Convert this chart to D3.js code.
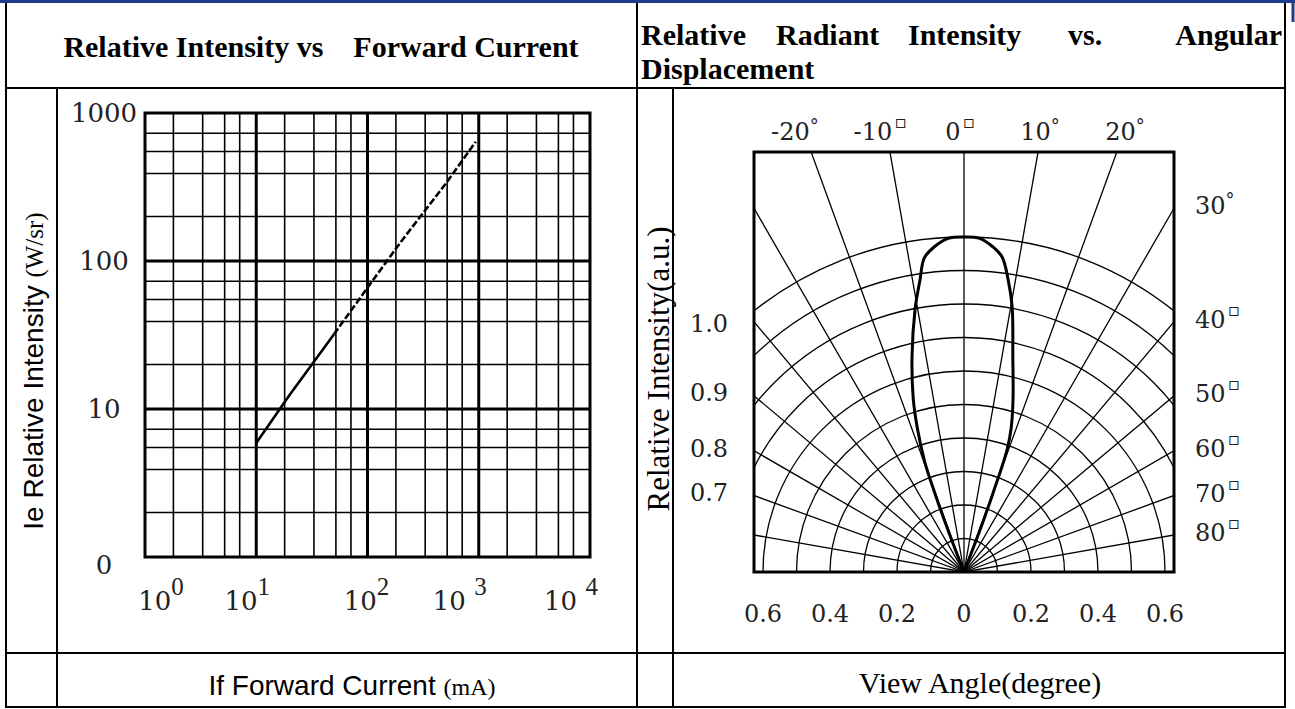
<!DOCTYPE html>
<html>
<head>
<meta charset="utf-8">
<script src="https://cdn.jsdelivr.net/npm/d3@7"></script>
<style>
body{margin:0;background:#fff;}
svg{display:block;}
</style>
</head>
<body>
<svg id="canvas"></svg>
<script>
// ---- left chart: relative intensity vs forward current ----
let xTicks=[1,10,100,1000,10000]
let xTickExp=["0","1","2","3","4"]
let xTickBase=["10","10","10","10 ","10 "]
let yTicks=[1000,100,10,1]
let yTickText=["1000","100","10","0"]
let xMinor=[1.8,3.3,5.2,7.1]
let yMinor=[2,3.9,5.5,7.3]
let currentMA=[10,20,50,100,200,500,940]
let intensityWsr=[5.9,12.5,32,66,135,330,640]

// ---- right chart: radiant intensity vs angle ----
let lobeAngle=[-21.6,-21,-20.3,-19.6,-18,-16.3,-13.6,-10.5,-8.6,-7.2,-5.2,-2.7,0,2.7,5.1,6.9,8.6,10.3,12.8,15.9,18.2,19.4,20.2,20.9,21.4]
let lobeValue=[0,0.12,0.25,0.35,0.45,0.54,0.66,0.80,0.88,0.945,0.975,0.997,1.0,0.997,0.974,0.947,0.882,0.804,0.658,0.534,0.45,0.386,0.25,0.13,0]
let ringValues=[0.1,0.2,0.3,0.4,0.5,0.6,0.7,0.8,0.9,1.0]
let spokeAngles=[-90,-80,-70,-60,-50,-40,-30,-20,-10,0,10,20,30,40,50,60,70,80,90]
let topAngles=[-20,-10,0,10,20]
let topMarks=["°","▫","▫","°","°"]
let sideAngles=[30,40,50,60,70,80]
let sideMarks=["°","▫","▫","▫","▫","▫"]
let bottomTicks=[-0.6,-0.4,-0.2,0,0.2,0.4,0.6]
let leftTickText=["1.0","0.9","0.8","0.7"]

// layout
let width=1295, height=709
let xLabelNudge=[16,-9,-1,-19,-19]
let leftTickY=[323,392,448,492]
let serif='"Liberation Serif","Times New Roman",serif'
let tickFont='"DejaVu Serif",serif'
let sans='"Liberation Sans",Arial,sans-serif'

let svg=d3.select('#canvas').attr('width',width).attr('height',height)
svg.append('rect').attr('width',width).attr('height',height).attr('fill','#fff')

let hline=(x1,x2,y,w,c)=>svg.append('line').attr('x1',x1).attr('x2',x2).attr('y1',y).attr('y2',y)
    .attr('stroke',c||'#000').attr('stroke-width',w)
let vline=(x,y1,y2,w,c)=>svg.append('line').attr('x1',x).attr('x2',x).attr('y1',y1).attr('y2',y2)
    .attr('stroke',c||'#000').attr('stroke-width',w)

// table frame
hline(0,width,1.5,3,'#1f3b8c')
vline(1293,0,22,3,'#1f3b8c')
hline(5,1286,88,2)
hline(5,1286,653,2)
hline(5,1286,707,2)
vline(6,3,708,2)
vline(1285,3,708,2)
vline(637,3,708,2)
vline(57,88,708,2)
vline(673,88,708,2)

// header texts
svg.append('text').attr('x',321).attr('y',57).attr('text-anchor','middle')
    .style('font-family',serif).style('font-weight','bold').style('font-size','30px')
    .attr('xml:space','preserve')
    .text('Relative Intensity vs    Forward Current')

let headWords=['Relative','Radiant','Intensity','vs.','Angular']
let headX=[641,776,908,1068,1282]
headWords.forEach((w,i)=>{
    svg.append('text').attr('x',headX[i]).attr('y',45)
    .attr('text-anchor',i==headWords.length-1?'end':'start')
    .style('font-family',serif).style('font-weight','bold').style('font-size','30px')
    .text(w)
})
svg.append('text').attr('x',641).attr('y',79)
    .style('font-family',serif).style('font-weight','bold').style('font-size','30px')
    .text('Displacement')

// ---------- left chart ----------
let xScale=d3.scaleLog().domain([1,10000]).range([145,590])
let yScale=d3.scaleLog().domain([1,1000]).range([557,113])
let left=svg.append('g')

let xMinorVals=[]
xTicks.slice(0,4).forEach(d=>xMinor.forEach(m=>xMinorVals.push(d*m)))
let yMinorVals=[]
yTicks.slice(1).forEach(d=>yMinor.forEach(m=>yMinorVals.push(d*m)))

left.selectAll('.xminor').data(xMinorVals).enter().append('line')
    .attr('x1',d=>xScale(d)).attr('x2',d=>xScale(d))
    .attr('y1',yScale(1)).attr('y2',yScale(1000))
    .attr('stroke','#000').attr('stroke-width',1.6)
left.selectAll('.yminor').data(yMinorVals).enter().append('line')
    .attr('y1',d=>yScale(d)).attr('y2',d=>yScale(d))
    .attr('x1',xScale(1)).attr('x2',xScale(10000))
    .attr('stroke','#000').attr('stroke-width',1.6)
left.selectAll('.xmajor').data(xTicks.slice(1,4)).enter().append('line')
    .attr('x1',d=>xScale(d)).attr('x2',d=>xScale(d))
    .attr('y1',yScale(1)).attr('y2',yScale(1000))
    .attr('stroke','#000').attr('stroke-width',3)
left.selectAll('.ymajor').data(yTicks.slice(1,3)).enter().append('line')
    .attr('y1',d=>yScale(d)).attr('y2',d=>yScale(d))
    .attr('x1',xScale(1)).attr('x2',xScale(10000))
    .attr('stroke','#000').attr('stroke-width',3)
left.append('rect')
    .attr('x',xScale(1)).attr('y',yScale(1000))
    .attr('width',xScale(10000)-xScale(1)).attr('height',yScale(1)-yScale(1000))
    .attr('fill','none').attr('stroke','#000').attr('stroke-width',3)

let pts=currentMA.map((c,i)=>[c,intensityWsr[i]])
let line=d3.line().x(d=>xScale(d[0])).y(d=>yScale(d[1]))
left.append('path').datum(pts.slice(0,3)).attr('d',line)
    .attr('fill','none').attr('stroke','#000').attr('stroke-width',2.6)
left.append('path').datum(pts.slice(2)).attr('d',line)
    .attr('fill','none').attr('stroke','#000').attr('stroke-width',2.6)
    .attr('stroke-dasharray','7,2.5')

// y tick labels
left.selectAll('.ylab').data(yTicks).enter().append('text')
    .attr('x',104).attr('y',(d,i)=>yScale(d)+(i==3?17:9))
    .attr('text-anchor','middle')
    .style('font-family',tickFont).style('font-size','26px').attr('fill','#222')
    .text((d,i)=>yTickText[i])

// x tick labels 10^n
xTicks.forEach((d,i)=>{
    let t=left.append('text').attr('x',xScale(d)+xLabelNudge[i]).attr('y',610)
        .attr('text-anchor','middle').attr('fill','#222').attr('xml:space','preserve')
    t.append('tspan').style('font-family',tickFont).style('font-size','26px').text(xTickBase[i])
    t.append('tspan').attr('dy',-15).style('font-family',serif).style('font-size','25px').text(xTickExp[i])
})

// left axis title
let yt=svg.append('text').attr('transform','translate(43,371) rotate(-90)')
    .attr('text-anchor','middle').attr('xml:space','preserve')
yt.append('tspan').style('font-family',sans).style('font-size','28px').text('Ie Relative Intensity ')
yt.append('tspan').style('font-family',serif).style('font-size','25px').text('(W/sr)')

let xt=svg.append('text').attr('x',352).attr('y',695).attr('text-anchor','middle').attr('xml:space','preserve')
xt.append('tspan').style('font-family',sans).style('font-size','28px').text('If Forward Current ')
xt.append('tspan').style('font-family',serif).style('font-size','24px').text('(mA)')

// ---------- right chart ----------
let cx=964, cy=572, boxL=754, boxR=1174, boxT=152
let rScale=d3.scaleLinear().domain([0,1]).range([0,335])
let rad=Math.PI/180

svg.append('clipPath').attr('id','polarClip').append('rect')
    .attr('x',boxL).attr('y',boxT).attr('width',boxR-boxL).attr('height',cy-boxT)
let polar=svg.append('g').attr('clip-path','url(#polarClip)')

polar.selectAll('.ring').data(ringValues).enter().append('circle')
    .attr('cx',cx).attr('cy',cy).attr('r',d=>rScale(d))
    .attr('fill','none').attr('stroke','#000').attr('stroke-width',1.3)
polar.selectAll('.spoke').data(spokeAngles).enter().append('line')
    .attr('x1',cx).attr('y1',cy)
    .attr('x2',d=>cx+Math.sin(d*rad)*900).attr('y2',d=>cy-Math.cos(d*rad)*900)
    .attr('stroke','#000').attr('stroke-width',1.3)

let lobe=lobeAngle.map((a,i)=>[a*rad,lobeValue[i]])
let radial=d3.lineRadial().angle(d=>d[0]).radius(d=>rScale(d[1])).curve(d3.curveCatmullRom.alpha(0.5))
polar.append('path').datum(lobe).attr('d',radial)
    .attr('transform',`translate(${cx},${cy})`)
    .attr('fill','none').attr('stroke','#000').attr('stroke-width',3)

svg.append('rect').attr('x',boxL).attr('y',boxT).attr('width',boxR-boxL).attr('height',cy-boxT)
    .attr('fill','none').attr('stroke','#000').attr('stroke-width',3)

// top angle labels
let degMark=(t,m,size)=>{
    if(m=='°') t.append('tspan').attr('dy',-8).style('font-family',tickFont).style('font-size',size+'px').text(m)
    else t.append('tspan').attr('dy',-12).attr('dx',2).style('font-family','"DejaVu Sans",sans-serif').style('font-size',size+'px').text(m)
}
topAngles.forEach((a,i)=>{
    let x=cx+(cy-boxT)*Math.tan(a*rad)*1.08-4
    let t=svg.append('text').attr('x',x).attr('y',140).attr('text-anchor','middle').attr('fill','#222')
    t.append('tspan').style('font-family',tickFont).style('font-size','24px').text(a)
    degMark(t,topMarks[i],18)
})
sideAngles.forEach((a,i)=>{
    let y=cy-(boxR-cx)/Math.tan(a*rad)
    let t=svg.append('text').attr('x',1195).attr('y',y+6).attr('fill','#222')
    t.append('tspan').style('font-family',tickFont).style('font-size','24px').text(a)
    degMark(t,sideMarks[i],18)
})
svg.selectAll('.btick').data(bottomTicks).enter().append('text')
    .attr('x',d=>cx+Math.sign(d)*rScale(Math.abs(d))).attr('y',622)
    .attr('text-anchor','middle').attr('fill','#222')
    .style('font-family',tickFont).style('font-size','24px')
    .text(d=>Math.abs(d)==0?'0':Math.abs(d).toFixed(1))
svg.selectAll('.ltick').data(leftTickText).enter().append('text')
    .attr('x',709).attr('y',(d,i)=>leftTickY[i]+9)
    .attr('text-anchor','middle').attr('fill','#222')
    .style('font-family',tickFont).style('font-size','24px')
    .text(d=>d)

svg.append('text').attr('transform','translate(669,369) rotate(-90)')
    .attr('text-anchor','middle').style('font-family',serif).style('font-size','31px')
    .text('Relative Intensity(a.u.)')
svg.append('text').attr('x',980).attr('y',693).attr('text-anchor','middle')
    .style('font-family',serif).style('font-size','30px')
    .text('View Angle(degree)')
</script>
</body>
</html>
